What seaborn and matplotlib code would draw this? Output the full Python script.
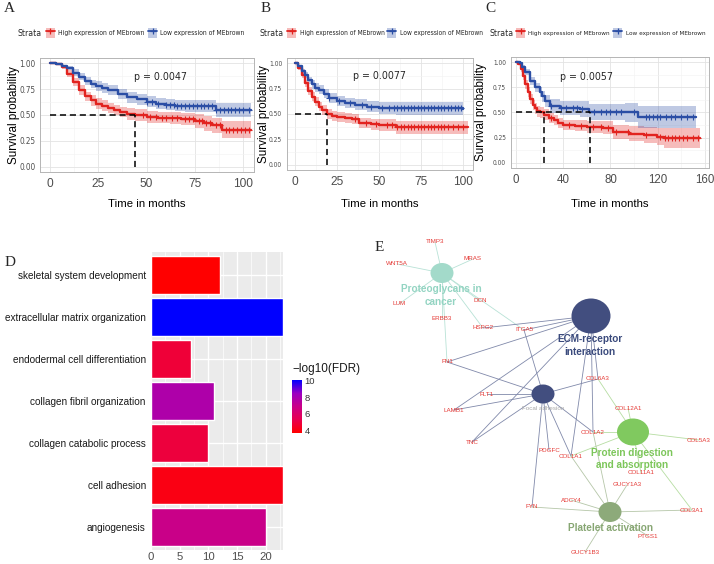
import numpy as np
import seaborn as sns
import matplotlib.pyplot as plt
from matplotlib import font_manager
from matplotlib.font_manager import FontProperties
from matplotlib.colors import LinearSegmentedColormap, Normalize
from matplotlib.cm import ScalarMappable
from matplotlib.patches import Ellipse, Patch
from matplotlib.lines import Line2D
from matplotlib.ticker import MultipleLocator

# ---------------- Kaplan-Meier data ----------------
a_high_t = [0, 3, 6, 9, 12, 15, 18, 21, 24, 27, 30, 33, 36, 40, 44, 50, 56, 62, 68, 75, 80, 84, 89, 104]
a_high_s = [1.0, 0.99, 0.96, 0.90, 0.82, 0.74, 0.68, 0.64, 0.61, 0.59, 0.57, 0.55, 0.53, 0.51, 0.50, 0.48,
            0.475, 0.47, 0.46, 0.44, 0.42, 0.40, 0.36, 0.355]
a_high_ci = [0.0, 0.01, 0.02, 0.03, 0.04, 0.045, 0.045, 0.05, 0.05, 0.05, 0.05, 0.05, 0.05, 0.055, 0.055,
             0.055, 0.055, 0.06, 0.06, 0.065, 0.07, 0.075, 0.085, 0.09]
a_high_cens = [48, 52, 55, 58, 60, 63, 66, 70, 72, 74, 77, 79, 81, 83, 86, 88, 91, 93, 95, 97, 99, 101, 103]
a_low_t = [0, 3, 6, 9, 12, 15, 18, 21, 24, 27, 30, 35, 40, 45, 50, 55, 60, 65, 70, 86, 104]
a_low_s = [1.0, 0.99, 0.97, 0.95, 0.91, 0.87, 0.83, 0.80, 0.78, 0.76, 0.74, 0.70, 0.67, 0.65, 0.63, 0.61,
           0.60, 0.59, 0.585, 0.55, 0.55]
a_low_ci = [0.0, 0.01, 0.015, 0.02, 0.03, 0.035, 0.04, 0.04, 0.045, 0.045, 0.045, 0.05, 0.05, 0.05, 0.05,
            0.055, 0.055, 0.055, 0.055, 0.065, 0.065]
a_low_cens = [50, 53, 56, 60, 62, 64, 66, 68, 70, 72, 74, 76, 78, 80, 82, 84, 86, 88, 90, 92, 94, 96, 98, 100, 103]
a_medians = [44]
a_pval = 'p = 0.0047'

b_high_t = [0, 2, 4, 6, 8, 10, 12, 14, 16, 19, 22, 25, 30, 34, 38, 45, 50, 60, 103]
b_high_s = [1.0, 0.95, 0.88, 0.80, 0.73, 0.67, 0.62, 0.57, 0.54, 0.50, 0.48, 0.47, 0.46, 0.45, 0.41, 0.40,
            0.39, 0.37, 0.37]
b_high_ci = [0.0, 0.02, 0.03, 0.035, 0.04, 0.045, 0.045, 0.045, 0.045, 0.045, 0.045, 0.045, 0.05, 0.05,
             0.05, 0.055, 0.06, 0.065, 0.065]
b_high_cens = [36, 42, 48, 55, 58, 61, 63, 65, 67, 69, 71, 73, 75, 77, 79, 81, 83, 85, 87, 89, 91, 94, 97, 100]
b_low_t = [0, 2, 4, 6, 8, 10, 12, 14, 17, 20, 25, 30, 36, 43, 50, 60, 100]
b_low_s = [1.0, 0.97, 0.92, 0.88, 0.83, 0.79, 0.76, 0.74, 0.70, 0.66, 0.63, 0.61, 0.59, 0.57, 0.56, 0.555, 0.55]
b_low_ci = [0.0, 0.015, 0.025, 0.03, 0.035, 0.04, 0.04, 0.045, 0.045, 0.05, 0.05, 0.05, 0.055, 0.055,
            0.06, 0.065, 0.07]
b_low_cens = [20, 26, 33, 40, 45, 52, 56, 59, 61, 63, 65, 67, 69, 71, 73, 75, 77, 79, 81, 83, 85, 87, 89,
              91, 93, 95, 97, 99]
b_medians = [19]
b_pval = 'p = 0.0077'

c_high_t = [0, 2, 4, 6, 8, 10, 12, 14, 16, 18, 20, 24, 28, 32, 36, 40, 50, 60, 74, 82, 96, 108, 119, 125, 156]
c_high_s = [1.0, 0.98, 0.93, 0.86, 0.78, 0.70, 0.63, 0.57, 0.54, 0.51, 0.50, 0.48, 0.45, 0.43, 0.40, 0.38,
            0.37, 0.36, 0.35, 0.31, 0.29, 0.28, 0.26, 0.245, 0.245]
c_high_ci = [0.0, 0.01, 0.03, 0.04, 0.045, 0.05, 0.05, 0.05, 0.05, 0.05, 0.05, 0.05, 0.05, 0.05, 0.05,
             0.05, 0.055, 0.06, 0.065, 0.07, 0.075, 0.08, 0.085, 0.1, 0.1]
c_high_cens = [30, 45, 55, 65, 72, 78, 85, 95, 110, 122, 126, 129, 132, 135, 138, 141, 145, 150, 154]
c_low_t = [0, 3, 5, 8, 12, 16, 20, 22, 25, 29, 37, 54, 62, 92, 103, 152]
c_low_s = [1.0, 0.99, 0.95, 0.90, 0.81, 0.75, 0.70, 0.66, 0.61, 0.565, 0.545, 0.535, 0.505, 0.50, 0.455, 0.455]
c_low_ci = [0.0, 0.01, 0.02, 0.03, 0.04, 0.045, 0.05, 0.055, 0.06, 0.065, 0.07, 0.075, 0.08, 0.09, 0.11, 0.115]
c_low_cens = [30, 38, 42, 48, 52, 56, 66, 72, 76, 80, 85, 89, 100, 110, 113, 116, 119, 122, 127, 131, 135,
              140, 145, 150]
c_medians = [24, 63]
c_pval = 'p = 0.0057'

strata_labels = ['High expression of MEbrown', 'Low expression of MEbrown']

# ---------------- GO enrichment data ----------------
go_terms = ['skeletal system development', 'extracellular matrix organization',
            'endodermal cell differentiation', 'collagen fibril organization',
            'collagen catabolic process', 'cell adhesion', 'angiogenesis']
go_count = [12, 23, 7, 11, 10, 23, 20]
go_logfdr = [3.65, 10.1, 4.8, 7.8, 4.9, 4.05, 6.9]

# ---------------- pathway / gene network ----------------
pathway_genes = {
    'Proteoglycans in cancer': ['TIMP3', 'MRAS', 'WNT5A', 'LUM', 'DCN', 'ERBB3', 'HSPG2', 'ITGA5', 'FN1'],
    'ECM-receptor interaction': ['HSPG2', 'ITGA5', 'FN1', 'LAMB1', 'TNC', 'COL6A3', 'COL1A2', 'COL1A1'],
    'Focal adhesion': ['FN1', 'FLT1', 'LAMB1', 'TNC', 'ITGA5', 'COL6A3', 'COL1A2', 'COL1A1', 'PDGFC', 'FYN'],
    'Protein digestion and absorption': ['COL6A3', 'COL12A1', 'COL1A2', 'COL5A3', 'COL1A1', 'COL11A1', 'COL3A1'],
    'Platelet activation': ['FYN', 'ADCY4', 'GUCY1A3', 'COL3A1', 'PTGS1', 'GUCY1B3', 'COL1A1', 'COL1A2'],
}

# network layout (pixel space of panel E)
hub_pos = {'Proteoglycans in cancer': (442, 273), 'ECM-receptor interaction': (591, 316),
           'Focal adhesion': (543, 394), 'Protein digestion and absorption': (633, 432),
           'Platelet activation': (610, 512)}
hub_size = {'Proteoglycans in cancer': (23, 20), 'ECM-receptor interaction': (39, 35),
            'Focal adhesion': (23, 19), 'Protein digestion and absorption': (32, 27),
            'Platelet activation': (23, 20)}
hub_text = {'Proteoglycans in cancer': (['Proteoglycans in', 'cancer'], (441, 289.5)),
            'ECM-receptor interaction': (['ECM-receptor', 'interaction'], (590, 339)),
            'Focal adhesion': (['Focal adhesion'], (543, 409)),
            'Protein digestion and absorption': (['Protein digestion', 'and absorption'], (632, 452.5)),
            'Platelet activation': (['Platelet activation'], (610, 528))}
hub_color = {'Proteoglycans in cancer': ('#A3DACA', '#93D4C2', '#B8E2D6'),
             'ECM-receptor interaction': ('#424E7F', '#3A4A7C', '#8089AA'),
             'Focal adhesion': ('#424E7F', '#A8A8A8', '#8089AA'),
             'Protein digestion and absorption': ('#80C95F', '#7CC65A', '#B6DDA2'),
             'Platelet activation': ('#8DAA7A', '#87A673', '#B5C6A8')}
gene_pos = {'TIMP3': (435, 242), 'MRAS': (473, 259), 'WNT5A': (397, 264), 'LUM': (399, 304),
            'DCN': (480, 301), 'ERBB3': (442, 319), 'HSPG2': (483, 328), 'ITGA5': (524, 330),
            'FN1': (447, 362), 'COL6A3': (598, 379), 'FLT1': (487, 394), 'LAMB1': (454, 410),
            'COL12A1': (628, 408), 'COL1A2': (593, 432), 'COL5A3': (699, 440), 'TNC': (472, 442),
            'PDGFC': (549, 450), 'COL1A1': (571, 456), 'COL11A1': (641, 473), 'GUCY1A3': (627, 485),
            'ADCY4': (571, 500), 'FYN': (532, 507), 'COL3A1': (692, 510), 'PTGS1': (648, 536),
            'GUCY1B3': (585, 552)}

# ---------------- style ----------------
sns.set_theme(style='white')
SANS = ['Liberation Sans', 'DejaVu Sans']
SERIF = ['Liberation Serif', 'DejaVu Serif']
plt.rcParams['font.family'] = SANS

# a condensed face for the top row lettering (falls back to Liberation Sans)
narrow_file = None
for f in font_manager.fontManager.ttflist:
    condensed = ('Narrow' in f.name or 'Condensed' in f.name or
                 str(f.stretch) in ('condensed', 'semi-condensed'))
    if condensed and f.style == 'normal' and f.weight in (400, 'normal', 'regular', 'book'):
        if narrow_file is None or 'Liberation' in f.name:
            narrow_file = f.fname


def narrow(size):
    if narrow_file:
        return dict(fontproperties=FontProperties(fname=narrow_file, size=size))
    return dict(fontproperties=FontProperties(family=SANS, size=size))


RED = '#E2231F'
BLUE = '#2B4EA5'
W, H = 714, 564
fig = plt.figure(figsize=(W / 100, H / 100), dpi=100)


def box(l, t, r, b):
    return [l / W, 1 - b / H, (r - l) / W, (b - t) / H]


def fx(x):
    return x / W


def fy(y):
    return 1 - y / H


def km_panel(rect, curves, medians, pval, ptxt, xlim, xstep, ytick_size, xtick_size):
    ax = fig.add_axes(box(*rect))
    for t, s, ci, cens, col in curves:
        t = np.asarray(t, float)
        s = np.asarray(s, float)
        ci = np.asarray(ci, float)
        ax.fill_between(t, s - ci, s + ci, step='post', color=col, alpha=0.3, lw=0)
        sns.lineplot(x=t, y=s, drawstyle='steps-post', color=col, lw=1.7, ax=ax,
                     estimator=None, errorbar=None)
        idx = np.searchsorted(t, cens, side='right') - 1
        ax.plot(cens, s[idx], ls='none', marker='+', ms=3.8, mew=0.8, color=col)
    ax.plot([0, max(medians)], [0.5, 0.5], color='black', ls=(0, (4, 2.5)), lw=1.1)
    for m in medians:
        ax.plot([m, m], [0, 0.5], color='black', ls=(0, (4, 2.5)), lw=1.1)
    ax.text(ptxt[0], ptxt[1], pval, ha='center', va='center', **narrow(7.6))
    ax.set_xlim(*xlim)
    ax.set_ylim(-0.05, 1.05)
    ax.xaxis.set_major_locator(MultipleLocator(xstep))
    ax.xaxis.set_minor_locator(MultipleLocator(xstep / 2))
    ax.set_yticks([0, 0.25, 0.5, 0.75, 1.0])
    ax.set_yticklabels(['0.00', '0.25', '0.50', '0.75', '1.00'])
    ax.yaxis.set_minor_locator(MultipleLocator(0.125))
    ax.grid(True, which='major', color='#E3E3E3', lw=0.6)
    ax.grid(True, which='minor', color='#F2F2F2', lw=0.4)
    ax.set_axisbelow(True)
    for sp in ax.spines.values():
        sp.set_color('#B5B5B5')
        sp.set_linewidth(0.7)
    ax.tick_params(which='major', length=2.5, width=0.6, color='#B5B5B5', labelcolor='#4D4D4D', pad=1.5)
    ax.tick_params(axis='y', pad=1.0)
    ax.tick_params(which='minor', length=0)
    ax.tick_params(axis='x', labelsize=xtick_size)
    for lab in ax.get_yticklabels():
        lab.set_fontproperties(narrow(ytick_size)['fontproperties'])
    ax.set_xlabel('')
    ax.set_ylabel('')
    return ax


def strata_legend(ax, x_text, x_leg, y, size):
    fig.text(fx(x_text), fy(y), 'Strata', va='center', ha='left', **narrow(6.2))
    handles = []
    for col in (RED, BLUE):
        handles.append((Patch(facecolor=col, alpha=0.3, edgecolor='none'),
                        Line2D([], [], color=col, lw=1.3, marker='+', ms=4, mew=0.9)))
    prop = narrow(size)['fontproperties']
    fs = prop.get_size_in_points() * 100 / 72
    ax.legend(handles, strata_labels, ncol=2, loc='center left', bbox_to_anchor=(fx(x_leg), fy(y)),
              bbox_transform=fig.transFigure, frameon=False, prop=prop,
              handlelength=9.0 / fs, handleheight=14.0 / fs, handletextpad=3.5 / fs,
              columnspacing=3.0 / fs, borderpad=0, borderaxespad=0)


panels = [
    dict(rect=(40, 58, 254, 172), curves=[(a_high_t, a_high_s, a_high_ci, a_high_cens, RED),
                                         (a_low_t, a_low_s, a_low_ci, a_low_cens, BLUE)],
         medians=a_medians, pval=a_pval, ptxt=(57, 0.865), xlim=(-5.2, 105.7), xstep=25,
         ytick=5.9, xtick=8.6, tag=('A', 4), ylab=14, strata=(17, 46), leg=4.9),
    dict(rect=(287, 58, 473, 170), curves=[(b_high_t, b_high_s, b_high_ci, b_high_cens, RED),
                                          (b_low_t, b_low_s, b_low_ci, b_low_cens, BLUE)],
         medians=b_medians, pval=b_pval, ptxt=(50, 0.87), xlim=(-4.8, 106), xstep=25,
         ytick=4.8, xtick=8.6, tag=('B', 261), ylab=264, strata=(260, 287), leg=4.8),
    dict(rect=(511, 57, 709, 168), curves=[(c_high_t, c_high_s, c_high_ci, c_high_cens, RED),
                                          (c_low_t, c_low_s, c_low_ci, c_low_cens, BLUE)],
         medians=c_medians, pval=c_pval, ptxt=(60, 0.85), xlim=(-4.2, 163.4), xstep=40,
         ytick=4.7, xtick=8.3, tag=('C', 485), ylab=481, strata=(490, 516), leg=4.6),
]

for p in panels:
    ax = km_panel(p['rect'], p['curves'], p['medians'], p['pval'], p['ptxt'], p['xlim'], p['xstep'],
                  p['ytick'], p['xtick'])
    l, t, r, b = p['rect']
    fig.text(fx(p['ylab']), fy((t + b) / 2), 'Survival probability', rotation=90, ha='center',
             va='center', size=8.4, color='black')
    fig.text(fx((l + r) / 2), fy(204), 'Time in months', ha='center', va='center', size=8.2, color='black')
    fig.text(fx(p['tag'][1]), fy(2), p['tag'][0], ha='left', va='top', family=SERIF, size=11)
    strata_legend(ax, *p['strata'], 33, p['leg'])

# ---------------- panel D: GO bar chart ----------------
cmap = LinearSegmentedColormap.from_list('fdr', ['#FF0000', '#E8004F', '#C90088', '#9A00C2', '#0000FF'])
norm = Normalize(vmin=3.65, vmax=10.1)
bar_colors = [cmap(norm(v)) for v in go_logfdr]

axd = fig.add_axes(box(151, 252, 283, 550))
sns.barplot(x=go_count, y=go_terms, hue=go_terms, palette=bar_colors, legend=False, orient='h',
            width=0.9, saturation=1, ax=axd)
axd.set_facecolor('#EBEBEB')
axd.set_xlim(0, 23)
axd.set_ylim(6.55, -0.55)
axd.set_xticks([0, 5, 10, 15, 20])
axd.xaxis.set_minor_locator(MultipleLocator(2.5))
axd.grid(True, which='major', color='white', lw=1.0)
axd.grid(True, which='minor', axis='x', color='white', lw=0.5)
axd.set_axisbelow(True)
for sp in axd.spines.values():
    sp.set_visible(False)
axd.tick_params(which='major', length=2.2, width=0.6, color='#333333', pad=1.5)
axd.tick_params(which='minor', length=0)
axd.tick_params(axis='y', labelsize=7.2, labelcolor='#1A1A1A')
axd.tick_params(axis='x', labelsize=8.2, labelcolor='#4D4D4D', pad=0.2, length=1.2)
axd.set_xlabel('')
axd.set_ylabel('')
fig.text(fx(5), fy(256), 'D', ha='left', va='top', family=SERIF, size=11)

cax = fig.add_axes(box(292, 380, 302, 433))
cb = fig.colorbar(ScalarMappable(norm=norm, cmap=cmap), cax=cax, ticks=[4, 6, 8, 10])
cb.outline.set_visible(False)
cax.tick_params(length=2, width=0.6, color='white', direction='in', labelsize=6.8, pad=2,
                labelcolor='#333333')
fig.text(fx(292), fy(369), '\u2212log10(FDR)', ha='left', va='center', size=8.5, color='#1A1A1A')

# ---------------- panel E: pathway network ----------------
axe = fig.add_axes(box(360, 240, 714, 564))
axe.set_xlim(360, 714)
axe.set_ylim(564, 240)
axe.axis('off')
for hub, genes in pathway_genes.items():
    hx, hy = hub_pos[hub]
    for g in genes:
        gx, gy = gene_pos[g]
        axe.plot([hx, gx], [hy, gy], color=hub_color[hub][2], lw=0.6, zorder=1)
for hub in pathway_genes:
    hx, hy = hub_pos[hub]
    w, h = hub_size[hub]
    axe.add_patch(Ellipse((hx, hy), w, h, facecolor=hub_color[hub][0], edgecolor='none', zorder=2))
for g, (gx, gy) in gene_pos.items():
    axe.text(gx, gy, g, ha='center', va='center', size=4.5, color='#E53935', zorder=3)
for hub, (lines, (tx, ty)) in hub_text.items():
    for k, line in enumerate(lines):
        if hub == 'Focal adhesion':
            axe.text(tx, ty, line, ha='center', va='center', size=4.5, color=hub_color[hub][1], zorder=3)
        else:
            axe.text(tx, ty + 13 * k, line, ha='center', va='center', size=7.2, weight='bold',
                     color=hub_color[hub][1], zorder=3)
fig.text(fx(375), fy(241), 'E', ha='left', va='top', family=SERIF, size=11)

fig.savefig('out.png', dpi=100)
